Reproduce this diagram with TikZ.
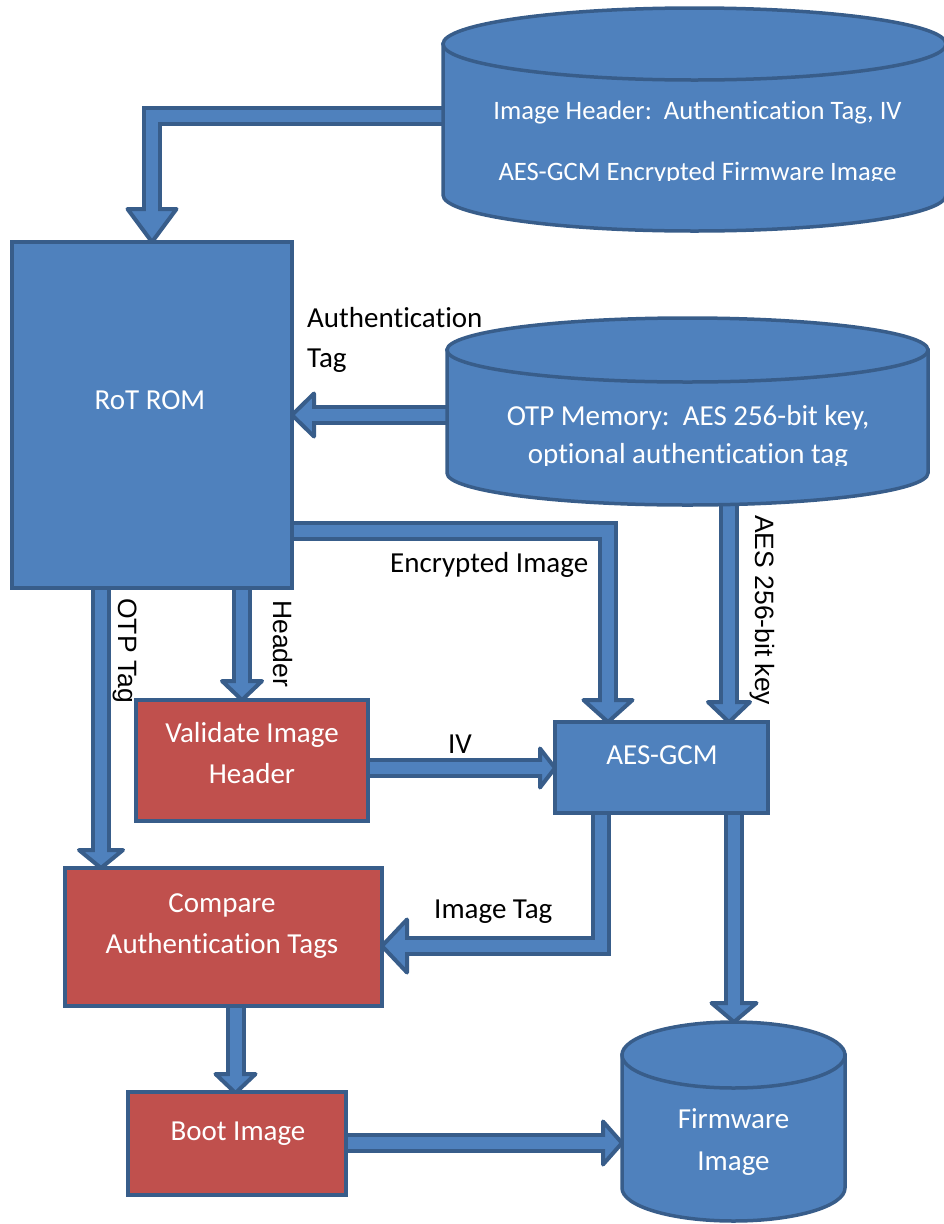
\documentclass[tikz,border=0pt]{standalone}
\usepackage{fontspec}
\setmainfont{Carlito}[Ligatures=CommonOff]
\newfontfamily\arialf{Liberation Sans}
\usetikzlibrary{calc}
\definecolor{bfill}{HTML}{4F81BD}
\definecolor{bline}{HTML}{385D8A}
\definecolor{rfill}{HTML}{C0504D}
\newcommand\noligti{t\kern0pt i}
% block arrow: #1 path ending at base, #2 base, #3 tip, #4 half head width
\newcommand\barrow[4]{%
  \draw[ashaft] #1;
  \filldraw[ahead] ($(#2)!#4pt!90:(#3)$) -- (#3) -- ($(#2)!#4pt!-90:(#3)$) -- cycle;
  \draw[ainner] #1 -- ($(#2)!4pt!(#3)$);
}
% cylinder: #1 cx, #2 rx, #3 top y, #4 bottom y, #5 ry
\newcommand\cylshape[5]{%
  \filldraw[cyl] (#1-#2,#3) -- (#1-#2,#4) arc[start angle=180,end angle=360,x radius=#2pt,y radius=#5pt] -- (#1+#2,#3) -- cycle;
  \filldraw[cyl] (#1,#3) ellipse[x radius=#2pt,y radius=#5pt];
}
\begin{document}
\begin{tikzpicture}[x=1pt,y=-1pt,
  box/.style={draw=bline, line width=3.5pt, anchor=north west, inner sep=0pt, outer sep=0pt},
  bluebox/.style={box, fill=bfill},
  redbox/.style={box, fill=rfill},
  wtxt/.style={text=white, font=\fontsize{29}{42}\selectfont, anchor=base, inner sep=0pt},
  btxt/.style={text=black, font=\fontsize{29}{42}\selectfont, anchor=base west, inner sep=0pt},
  rtxt/.style={text=black, font=\arialf\fontsize{26.5}{30}\selectfont, anchor=base west, rotate=-90, inner sep=0pt},
  ashaft/.style={draw=bline, line width=20pt, line join=miter},
  ainner/.style={draw=bfill, line width=12pt, line join=miter},
  ahead/.style={fill=bfill, draw=bline, line width=4pt, line join=round},
  cyl/.style={fill=bfill, draw=bline, line width=3.5pt}
]
\useasboundingbox (0,0) rectangle (944,1224);

% boxes (nodes) first so anchors exist
\path (12,242) node[bluebox, minimum width=280pt, minimum height=346pt, draw=none, fill=none] (rot) {};
\path (136,700) node[redbox, minimum width=232pt, minimum height=121pt, draw=none, fill=none] (val) {};
\path (555,722) node[bluebox, minimum width=213pt, minimum height=91pt, draw=none, fill=none] (aes) {};
\path (65,868) node[redbox, minimum width=317pt, minimum height=138pt, draw=none, fill=none] (cmp) {};
\path (128,1092) node[redbox, minimum width=218pt, minimum height=103pt, draw=none, fill=none] (boot) {};

% cylinder reference points
\coordinate (hdrW) at (447,116);
\coordinate (otpW) at (451,415);
\coordinate (otpS) at (729,495);
\coordinate (fwN) at (734,1022);
\coordinate (fwW) at (622,1143);

% arrow points
\coordinate (b1) at (152,209);
\coordinate (s3) at ($(rot.east)+(-3,116)$);
\coordinate (b3) at (608,700);  \coordinate (t3) at (608,722);
\coordinate (b2) at (314,415);
\coordinate (b4) at (729,702);  \coordinate (t4) at (729,722);
\coordinate (s5) at (242,585);  \coordinate (b5) at (242,681); \coordinate (t5) at (242,700);
\coordinate (s6) at (101,585);  \coordinate (b6) at (101,850); \coordinate (t6) at (101,868);
\coordinate (s7) at (366,768);  \coordinate (b7) at (540,768); \coordinate (t7) at (555,768);
\coordinate (s8) at (601,811);  \coordinate (b8) at (407,946); \coordinate (t8) at (382,946);
\coordinate (s9) at (734,811);  \coordinate (b9) at (734,1003);
\coordinate (s10) at (235.5,1004); \coordinate (b10) at (235.5,1074); \coordinate (t10) at (235.5,1093);
\coordinate (s11) at (344,1143); \coordinate (b11) at (603,1143);

% arrows
\barrow{(hdrW) -| (b1)}{b1}{rot.north}{24.5}
\barrow{(otpW) -- (b2)}{b2}{rot.east}{21.5}
\barrow{(s3) -| (b3)}{b3}{t3}{24.5}
\barrow{(otpS) -- (b4)}{b4}{t4}{21}
\barrow{(s5) -- (b5)}{b5}{t5}{20}
\barrow{(s6) -- (b6)}{b6}{t6}{22}
\barrow{(s7) -- (b7)}{b7}{t7}{19.5}
\barrow{(s8) |- (b8)}{b8}{t8}{26.5}
\barrow{(s9) -- (b9)}{b9}{fwN}{22.5}
\barrow{(s10) -- (b10)}{b10}{t10}{20}
\barrow{(s11) -- (b11)}{b11}{fwW}{21.5}

% visible boxes
\draw[bline, line width=3.5pt, fill=bfill] (rot.north west) rectangle (rot.south east);
\draw[bline, line width=3.5pt, fill=rfill] (val.north west) rectangle (val.south east);
\draw[bline, line width=3.5pt, fill=bfill] (aes.north west) rectangle (aes.south east);
\draw[bline, line width=3.5pt, fill=rfill] (cmp.north west) rectangle (cmp.south east);
\draw[bline, line width=3.5pt, fill=rfill] (boot.north west) rectangle (boot.south east);

% cylinders
\cylshape{694.5}{251.5}{44}{195}{36}
\cylshape{687.5}{240.5}{350}{473}{32}
\cylshape{733.5}{111.5}{1055}{1188}{33}

% texts in shapes
\node[wtxt] (rott) at (150,409) {RoT ROM};
\node[wtxt] (valt1) at (252,742) {Validate Image};
\node[wtxt] (valt2) at (252,783) {Header};
\node[wtxt] (aest) at (662,764) {AES-GCM};
\node[wtxt] (cmpt1) at (222,912) {Compare};
\node[wtxt] (cmpt2) at (222,953) {Authen\noligti ca\noligti on Tags};
\node[wtxt] (boott) at (238,1140) {Boot Image};
\node[wtxt] (fwt1) at (733.5,1128) {Firmware};
\node[wtxt] (fwt2) at (733.5,1170) {Image};
\node[wtxt, font=\fontsize{26.6}{30}\selectfont] (hdrt1) at (697.5,119) {Image Header:\ \ Authen\noligti ca\noligti on Tag, IV};
\begin{scope}
  \clip (450,140) rectangle (944,180);
  \node[wtxt, font=\fontsize{26.6}{30}\selectfont] (hdrt2) at (697.5,180.5) {AES-GCM Encrypted Firmware Image};
\end{scope}
\node[wtxt] (otpt1) at (688,425) {OTP Memory:\ \ AES 256-bit key,};
\begin{scope}
  \clip (450,430) rectangle (930,465);
  \node[wtxt] (otpt2) at (688,463) {op\noligti onal authen\noligti ca\noligti on tag};
\end{scope}

% connector labels
\node[btxt] (l1a) at (307,327) {Authen\noligti ca\noligti on};
\node[btxt] (l1b) at (307,367) {Tag};
\node[btxt] (l2) at (390,572) {Encrypted Image};
\node[btxt, anchor=base] (l3) at (460,753) {IV};
\node[btxt] (l4) at (434,918) {Image Tag};
\node[rtxt] (l5) at (118,598) {OTP Tag};
\node[rtxt] (l6) at (273.5,600) {Header};
\node[rtxt] (l7) at (755,515) {AES 256-bit key};
\end{tikzpicture}
\end{document}
